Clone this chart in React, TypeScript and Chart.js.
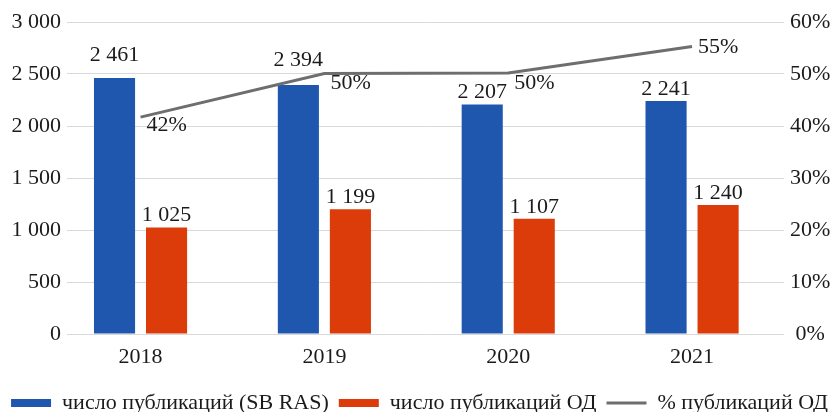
import React, { useEffect, useRef } from "react";
import { Chart, registerables } from "chart.js";

Chart.register(...registerables);

const years = ["2018", "2019", "2020", "2021"];
const sbRas = [2461, 2394, 2207, 2241];
const od = [1025, 1199, 1107, 1240];
const pctOd = [41.7, 50.1, 50.2, 55.3];
const leftTicks = [0, 500, 1000, 1500, 2000, 2500, 3000];
const rightTicks = [0, 10, 20, 30, 40, 50, 60];

const FONT = "'Liberation Serif', 'Times New Roman', serif";
const BLUE = "#1f56ae";
const RED = "#dc3b0a";
const GRAY = "#6e6e6e";
const TEXT = "#1b1b1b";

const fmt = (v: number) => String(v).replace(/\B(?=(\d{3})+(?!\d))/g, " ");

const labelsPlugin = {
  id: "valueLabels",
  afterDatasetsDraw(chart: any) {
    const ctx = chart.ctx;
    ctx.save();
    ctx.fillStyle = TEXT;
    ctx.font = `22px ${FONT}`;
    const blueLift = [11, 13, 0, 0];
    [0, 1].forEach((di) => {
      const meta = chart.getDatasetMeta(di);
      const vals = chart.data.datasets[di].data;
      meta.data.forEach((bar: any, i: number) => {
        ctx.textAlign = "center";
        ctx.textBaseline = "alphabetic";
        const lift = di === 0 ? blueLift[i] : 0;
        ctx.fillText(fmt(vals[i].y), bar.x, bar.y - 6 - lift);
      });
    });
    const lm = chart.getDatasetMeta(2);
    const dy = [8, 10, 10, 1];
    lm.data.forEach((pt: any, i: number) => {
      ctx.textAlign = "left";
      ctx.textBaseline = "middle";
      ctx.fillText(Math.round(pctOd[i]) + "%", pt.x + 6, pt.y + dy[i]);
    });
    ctx.restore();
  },
};

export default function App() {
  const ref = useRef<HTMLCanvasElement>(null);
  useEffect(() => {
    if (!ref.current) return;
    const chart = new Chart(ref.current, {
      type: "bar",
      data: {
        datasets: [
          {
            type: "bar",
            label: "число публикаций (SB RAS)",
            data: years.map((_, i) => ({ x: i, y: sbRas[i] })),
            backgroundColor: BLUE,
            pointStyle: "rect",
            yAxisID: "y",
            order: 2,
          },
          {
            type: "bar",
            label: "число публикаций ОД",
            data: years.map((_, i) => ({ x: i, y: od[i] })),
            backgroundColor: RED,
            pointStyle: "rect",
            yAxisID: "y",
            order: 2,
          },
          {
            type: "line",
            label: "% публикаций ОД",
            data: years.map((_, i) => ({ x: i, y: pctOd[i] })),
            borderColor: GRAY,
            backgroundColor: GRAY,
            borderWidth: 3,
            pointRadius: 0,
            pointStyle: "line",
            yAxisID: "y1",
            order: 1,
          } as any,
        ],
      },
      options: {
        responsive: false,
        animation: false,
        events: [],
        layout: { padding: { top: 22, left: 0, right: 0, bottom: 0 } },
        datasets: {
          bar: { categoryPercentage: 0.566, barPercentage: 0.79 },
        } as any,
        scales: {
          x: {
            type: "linear",
            offset: false,
            min: -0.4,
            max: 3.5,
            afterBuildTicks: (s: any) => {
              s.ticks = years.map((_, i) => ({ value: i }));
            },
            afterFit: (s: any) => {
              s.height = 48;
            },
            grid: { display: false, drawTicks: false, offset: false },
            border: { display: false },
            ticks: {
              padding: 10,
              color: TEXT,
              font: { family: FONT, size: 22 },
              callback: (v: any) => years[v] ?? "",
            },
          },
          y: {
            position: "left",
            min: 0,
            max: 3000,
            afterBuildTicks: (s: any) => {
              s.ticks = leftTicks.map((v) => ({ value: v }));
            },
            afterFit: (s: any) => {
              s.width = 67;
            },
            grid: { color: "#d9d9d9", lineWidth: 1, drawTicks: false },
            border: { display: false },
            ticks: {
              padding: 6,
              color: TEXT,
              font: { family: FONT, size: 22 },
              callback: (v: any) => fmt(Number(v)),
            },
          },
          y1: {
            position: "right",
            min: 0,
            max: 60,
            afterBuildTicks: (s: any) => {
              s.ticks = rightTicks.map((v) => ({ value: v }));
            },
            afterFit: (s: any) => {
              s.width = 55;
            },
            grid: { drawOnChartArea: false, drawTicks: false },
            border: { display: false },
            ticks: {
              padding: 6,
              crossAlign: "center",
              color: TEXT,
              font: { family: FONT, size: 22 },
              callback: (v: any) => v + "%",
            },
          },
        },
        plugins: {
          tooltip: { enabled: false },
          legend: {
            position: "bottom",
            labels: {
              usePointStyle: true,
              pointStyleWidth: 40,
              boxHeight: 8,
              padding: 10,
              color: TEXT,
              font: { family: FONT, size: 22 },
              sort: (a: any, b: any) => a.datasetIndex - b.datasetIndex,
            },
          },
        },
      },
      plugins: [labelsPlugin],
    });
    return () => chart.destroy();
  }, []);
  return (
    <div
      style={{
        position: "absolute",
        left: 0,
        top: 0,
        width: 839,
        height: 412,
        overflow: "hidden",
        background: "#fff",
      }}
    >
      <canvas ref={ref} width={839} height={424} style={{ display: "block" }} />
    </div>
  );
}
